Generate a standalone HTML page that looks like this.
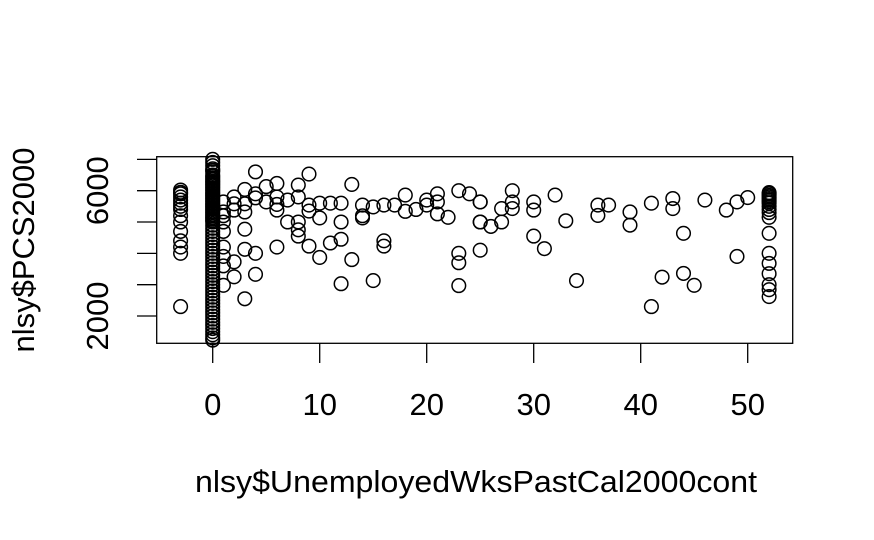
<!DOCTYPE html>
<html><head><meta charset="utf-8"><style>
html,body{margin:0;padding:0;background:#fff;}
svg{display:block;font-family:"Liberation Sans",Arial,sans-serif;}
</style></head><body>
<svg id="chart" width="874" height="540" viewBox="0 0 874 540" xmlns="http://www.w3.org/2000/svg">
<rect x="156.7" y="156.7" width="636" height="186.6" fill="none" stroke="#000" stroke-width="1.3"/>
<g id="xaxis"></g>
<g id="yaxis"></g>
<g id="pts"></g>
<text x="476" y="492" font-size="31" text-anchor="middle" textLength="562" lengthAdjust="spacingAndGlyphs">nlsy$UnemployedWksPastCal2000cont</text>
<text transform="translate(34,250) rotate(-90)" font-size="31" text-anchor="middle" textLength="205" lengthAdjust="spacingAndGlyphs">nlsy$PCS2000</text>
</svg>
<script>
const xTicks=[0,10,20,30,40,50];
const yTicks=[2000,3000,4000,5000,6000,7000];
const yTickLabels=["2000","","","","6000",""];
const col0=[7000,6900,6800,6700,6650,6600,6500,6450,6400,6350,6300,6250,6200,6150,6100,6050,6000,5950,5900,5850,5800,5750,5700,5650,5600,5550,5500,5450,5400,5350,5300,5250,5200,5150,5100,5050,5000,4900,4800,4700,4600,4500,4400,4300,4200,4100,4000,3900,3800,3700,3600,3500,3400,3300,3200,3100,3000,2900,2800,2700,2600,2500,2400,2300,2200,2100,2000,1900,1800,1700,1600,1500,1400,1300,1230];
const colNeg3=[6022,5950,5900,5800,5700,5600,5500,5400,5200,5000,4700,4400,4200,4000,2300];
const col52=[5940,5900,5850,5800,5750,5700,5650,5600,5500,5400,5300,5150,4640,4000,3680,3350,3000,2840,2620];
const xVals=[4,9,3,5,6,8,13,2,4,6,7,8,9,10,11,12,14,15,16,17,18,18,19,20,20,21,21,21,22,23,24,25,25,25,23,23,23,16,16,15,13,12,12,12,11,10,10,9,8,8,8,7,6,6,6,4,4,3,3,3,3,3,2,2,2,2,1,1,1,1,1,1,1,1,1,14,14,9,5,4,
25,25,26,27,27,28,28,28,30,30,30,31,32,33,34,36,36,37,39,39,41,41,42,43,43,44,44,45,46,48,49,49,50];
const yVals=[6600,6530,6040,6130,6230,6180,6200,5800,5770,5800,5700,5800,5540,5600,5600,5600,5540,5480,5540,5540,5860,5340,5400,5700,5540,5900,5640,5260,5150,6000,5900,5640,5000,4100,4000,3700,2970,4400,4230,3130,3800,4450,5000,3030,4330,3870,5130,4230,4550,4750,5000,5000,5380,5560,4200,4000,3330,4130,2550,4770,5320,5580,5580,5380,3730,3250,2980,3600,3900,4200,4700,5000,5320,5640,5200,5130,5200,5350,5640,5900,
5640,5000,4860,5000,5430,6000,5640,5430,5640,5380,4550,4150,5860,5040,3130,5540,5210,5540,5320,4900,5600,2300,3240,5750,5430,4640,3360,2980,5700,5380,5640,3900,5780];

const NS="http://www.w3.org/2000/svg";
function xs(v){return 212.7+10.7*v;}
function ys(v){return 316-(v-2000)/1000*31.33;}
const xa=document.getElementById('xaxis'),ya=document.getElementById('yaxis'),pg=document.getElementById('pts');
function mk(tag,attrs,parent){const e=document.createElementNS(NS,tag);for(const k in attrs)e.setAttribute(k,attrs[k]);parent.appendChild(e);return e;}
xTicks.forEach(t=>{
  const l=mk('line',{x1:xs(t),x2:xs(t),y1:343.3,y2:363,stroke:'#000','stroke-width':1.3},xa);
  
  
  const tx=mk('text',{x:xs(t),y:415,'font-size':31,'text-anchor':'middle'},xa);
  tx.textContent=String(t);
  
  
});
yTicks.forEach((t,i)=>{
  const l=mk('line',{x1:137,x2:156.7,y1:ys(t),y2:ys(t),stroke:'#000','stroke-width':1.3},ya);
  
  
  if(yTickLabels[i]){
    const tx=mk('text',{transform:'translate(108,'+ys(t)+') rotate(-90)','font-size':31,'text-anchor':'middle'},ya);
    tx.textContent=yTickLabels[i];
    
    
  }
});
function pt(x,y){
  const c=mk('circle',{cx:xs(x),cy:ys(y),r:6.8,fill:'none',stroke:'#000','stroke-width':1.5},pg);
  
  
}
col0.forEach(v=>pt(0,v));
colNeg3.forEach(v=>pt(-3,v));
col52.forEach(v=>pt(52,v));
xVals.forEach((x,i)=>pt(x,yVals[i]));
</script>
</body></html>
